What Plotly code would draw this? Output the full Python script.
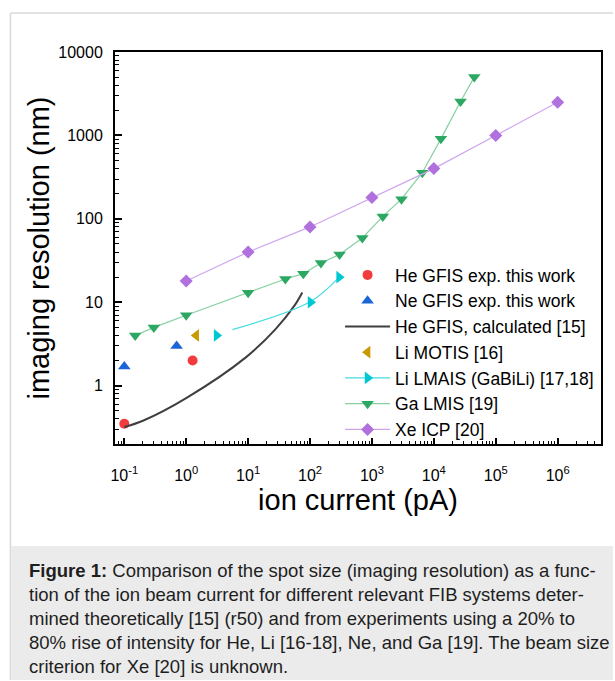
import plotly.graph_objects as go

# ---------------- data ----------------
he_exp_x = [0.1, 1.27]
he_exp_y = [0.35, 2.0]

ne_exp_x = [0.1, 0.7]
ne_exp_y = [1.7, 3.0]

he_calc_x = [0.1, 0.2, 1.0, 9.3, 28, 56, 75]
he_calc_y = [0.32, 0.38, 0.71, 2.2, 4.8, 9.1, 13.1]

li_motis_x = [1.45]
li_motis_y = [4.0]

li_lmais_x = [3.1, 102, 295]
li_lmais_y = [4.0, 10.0, 20.0]
li_lmais_fit_x = [5.6, 102, 295]
li_lmais_fit_y = [4.7, 10.2, 20.0]

ga_x = [0.15, 0.30, 1.0, 10, 40, 78, 150, 300, 700, 1500, 3000, 6500, 13000, 27000, 45000]
ga_y = [4.0, 5.0, 7.0, 13, 19, 22, 29.5, 37.5, 59, 107, 172, 357, 910, 2550, 5000]

xe_x = [1, 10, 100, 1000, 1e4, 1e5, 1e6]
xe_y = [18, 40, 80, 180, 400, 1000, 2500]

x_tickvals = [0.1, 1, 10, 100, 1e3, 1e4, 1e5, 1e6]
x_ticktext = ["10<sup>-1</sup>", "10<sup>0</sup>", "10<sup>1</sup>", "10<sup>2</sup>",
              "10<sup>3</sup>", "10<sup>4</sup>", "10<sup>5</sup>", "10<sup>6</sup>"]
y_tickvals = [1, 10, 100, 1000, 10000]
y_ticktext = ["1", "10", "100", "1000", "10000"]

legend_names = ["He GFIS exp. this work", "Ne GFIS exp. this work",
                "He GFIS, calculated [15]", "Li MOTIS [16]",
                "Li LMAIS (GaBiLi) [17,18]", "Ga LMIS [19]", "Xe ICP [20]"]

caption_lines = [
    "<b>Figure 1:</b> Comparison of the spot size (imaging resolution) as a func-",
    "tion of the ion beam current for different relevant FIB systems deter-",
    "mined theoretically [15] (r50) and from experiments using a 20% to",
    "80% rise of intensity for He, Li [16-18], Ne, and Ga [19]. The beam size",
    "criterion for Xe [20] is unknown.",
]

# ---------------- styling ----------------
FONT = "Liberation Sans, Arial, sans-serif"
W, H = 615, 681
L, R, T, B = 115, 603, 52, 444  # plot area in pixels

def px(xp):
    return (xp - L) / (R - L)

def py(yp):
    return (B - yp) / (B - T)

RED = "#f23c3c"
BLUE = "#1a66d9"
DARK = "#3f3f3f"
GOLD = "#c99a00"
CYAN = "#00c8d2"
CYAN_L = "#45dbe2"
GREEN = "#2da862"
GREEN_L = "#86d0a2"
PURPLE = "#b070dd"
PURPLE_L = "#cfa6ee"

fig = go.Figure()

# He GFIS exp
fig.add_trace(go.Scatter(x=he_exp_x, y=he_exp_y, mode="markers", name=legend_names[0],
                         marker=dict(symbol="circle", size=10, color=RED)))
# Ne GFIS exp
fig.add_trace(go.Scatter(x=ne_exp_x, y=ne_exp_y, mode="markers", name=legend_names[1],
                         marker=dict(symbol="triangle-up", size=11, color=BLUE)))
# He calc
fig.add_trace(go.Scatter(x=he_calc_x, y=he_calc_y, mode="lines", name=legend_names[2],
                         line=dict(color=DARK, width=2, shape="spline", smoothing=1.0)))
# Li MOTIS
fig.add_trace(go.Scatter(x=li_motis_x, y=li_motis_y, mode="markers", name=legend_names[3],
                         marker=dict(symbol="triangle-left", size=11, color=GOLD)))
# Li LMAIS fit line + markers (legend entry via a proxy trace)
fig.add_trace(go.Scatter(x=li_lmais_fit_x, y=li_lmais_fit_y, mode="lines", showlegend=False,
                         line=dict(color=CYAN_L, width=1.2, shape="spline", smoothing=1.0)))
fig.add_trace(go.Scatter(x=li_lmais_x, y=li_lmais_y, mode="markers", showlegend=False,
                         marker=dict(symbol="triangle-right", size=11, color=CYAN)))
fig.add_trace(go.Scatter(x=[None], y=[None], mode="lines+markers", name=legend_names[4],
                         line=dict(color=CYAN_L, width=1.2),
                         marker=dict(symbol="triangle-right", size=11, color=CYAN)))
# Ga LMIS
fig.add_trace(go.Scatter(x=ga_x, y=ga_y, mode="lines+markers", name=legend_names[5],
                         line=dict(color=GREEN_L, width=1.2),
                         marker=dict(symbol="triangle-down", size=11, color=GREEN)))
# Xe ICP
fig.add_trace(go.Scatter(x=xe_x, y=xe_y, mode="lines+markers", name=legend_names[6],
                         line=dict(color=PURPLE_L, width=1.2),
                         marker=dict(symbol="diamond", size=10, color=PURPLE)))

def minor_vals(lo, hi):
    vals = []
    for e in range(lo, hi):
        for m in range(2, 10):
            vals.append(m * 10.0 ** e)
    return vals

fig.update_xaxes(
    type="log", range=[-1.15, 6.70],
    tickmode="array", tickvals=x_tickvals, ticktext=x_ticktext,
    ticks="inside", ticklen=6, tickwidth=1.5, tickcolor="black",
    minor=dict(tickmode="array", tickvals=minor_vals(-2, 7), ticks="inside",
               ticklen=3, tickwidth=1.2, tickcolor="black", showgrid=False),
    showline=True, linecolor="black", linewidth=2, mirror=True,
    showgrid=False, zeroline=False,
    tickfont=dict(family=FONT, size=16, color="black"),
    ticklabelstandoff=16,
    title=dict(text="ion current (pA)", font=dict(family=FONT, size=29, color="black"),
               standoff=3),
)
fig.update_yaxes(
    type="log", range=[-0.699, 4.0],
    tickmode="array", tickvals=y_tickvals, ticktext=y_ticktext,
    ticks="inside", ticklen=7, tickwidth=1.5, tickcolor="black",
    minor=dict(tickmode="array", tickvals=minor_vals(-1, 4), ticks="inside",
               ticklen=4, tickwidth=1.2, tickcolor="black", showgrid=False),
    showline=True, linecolor="black", linewidth=2, mirror=True,
    showgrid=False, zeroline=False,
    tickfont=dict(family=FONT, size=16, color="black"),
    ticklabelstandoff=7,
    title=dict(text="imaging resolution (nm)", font=dict(family=FONT, size=29, color="black"),
               standoff=0),
)

shapes = [
    # caption background
    dict(type="rect", xref="paper", yref="paper", x0=px(11), x1=px(615), y0=py(546), y1=py(680),
         fillcolor="#ebebeb", line=dict(width=0), layer="below"),
    # page frame lines
    dict(type="line", xref="paper", yref="paper", x0=px(10), x1=px(615), y0=py(13), y1=py(13),
         line=dict(color="#d9d9d9", width=1.5)),
    dict(type="line", xref="paper", yref="paper", x0=px(10), x1=px(10), y0=py(13), y1=py(680),
         line=dict(color="#d9d9d9", width=1.5)),
]

annotations = []
for i, line in enumerate(caption_lines):
    annotations.append(dict(
        xref="paper", yref="paper", x=px(27), y=py(570 + 24 * i),
        xanchor="left", yanchor="middle", showarrow=False, align="left",
        text=line, font=dict(family=FONT, size=18.5, color="#1e1e1e"),
    ))

fig.update_layout(
    width=W, height=H,
    margin=dict(l=L, r=W - R, t=T, b=H - B, pad=0),
    paper_bgcolor="white", plot_bgcolor="white",
    font=dict(family=FONT, color="black"),
    showlegend=True,
    legend=dict(x=px(341), y=py(257), xanchor="left", yanchor="top",
                bgcolor="rgba(0,0,0,0)", borderwidth=0,
                font=dict(family=FONT, size=17.5, color="black"),
                traceorder="normal", itemwidth=45),
    shapes=shapes,
    annotations=annotations,
)

fig.write_html("out.html")
